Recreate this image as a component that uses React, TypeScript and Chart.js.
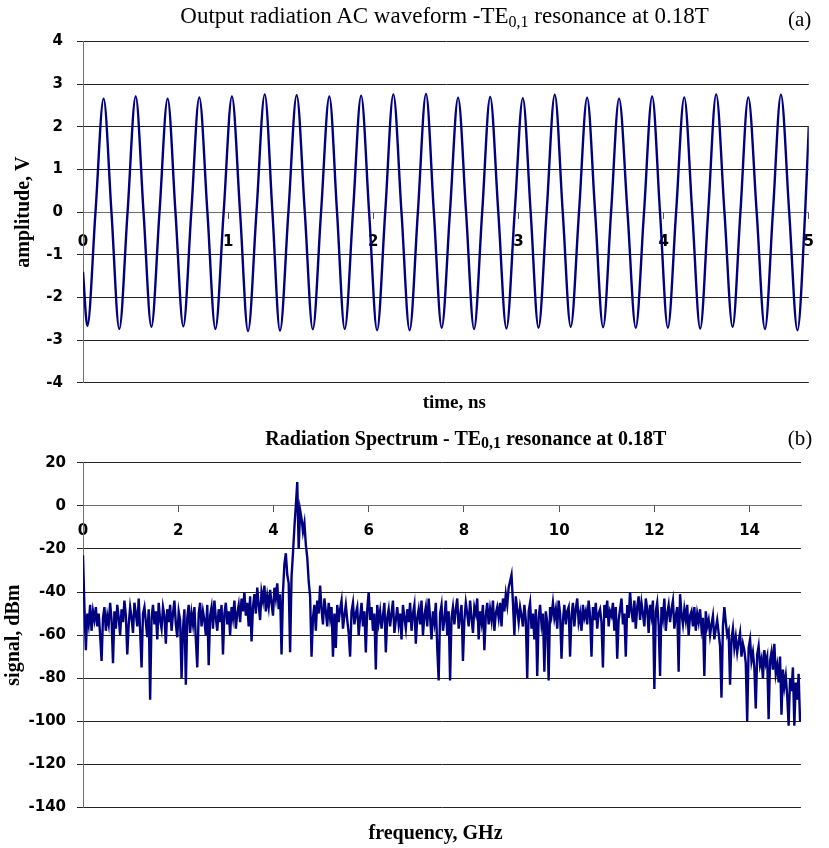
import React, { useEffect, useRef } from 'react';
import { Chart, registerables } from 'chart.js';

Chart.register(...registerables);

// ---------- (a) output radiation AC waveform: read extremes and zero crossings ----------
const WAVE_TIME_NS = [
  0, 0.030, 0.086, 0.142, 0.196, 0.250, 0.307, 0.363, 0.417, 0.471,
  0.527, 0.583, 0.637, 0.691, 0.746, 0.801, 0.857, 0.912, 0.969, 1.026,
  1.082, 1.137, 1.195, 1.252, 1.305, 1.357, 1.415, 1.472, 1.528, 1.583,
  1.640, 1.697, 1.750, 1.803, 1.860, 1.916, 1.971, 2.026, 2.082, 2.138,
  2.194, 2.250, 2.307, 2.363, 2.417, 2.471, 2.528, 2.584, 2.639, 2.694,
  2.750, 2.805, 2.861, 2.917, 2.974, 3.030, 3.084, 3.138, 3.194, 3.250,
  3.305, 3.360, 3.417, 3.473, 3.528, 3.583, 3.638, 3.693, 3.751, 3.808,
  3.865, 3.921, 3.975, 4.029, 4.086, 4.142, 4.197, 4.252, 4.307, 4.362,
  4.419, 4.475, 4.529, 4.583, 4.641, 4.698, 4.753, 4.808, 4.865, 4.922,
  4.975, 5.0,
];
const WAVE_AMPLITUDE_V = [
  -1.4, -2.67, 0, 2.66, 0, -2.74, 0, 2.71, 0, -2.69,
  0, 2.66, 0, -2.68, 0, 2.69, 0, -2.74, 0, 2.71,
  0, -2.79, 0, 2.76, 0, -2.78, 0, 2.74, 0, -2.75,
  0, 2.71, 0, -2.74, 0, 2.73, 0, -2.77, 0, 2.76,
  0, -2.77, 0, 2.77, 0, -2.71, 0, 2.68, 0, -2.74,
  0, 2.70, 0, -2.73, 0, 2.67, 0, -2.71, 0, 2.75,
  0, -2.69, 0, 2.68, 0, -2.70, 0, 2.66, 0, -2.71,
  0, 2.71, 0, -2.71, 0, 2.69, 0, -2.73, 0, 2.76,
  0, -2.69, 0, 2.69, 0, -2.74, 0, 2.75, 0, -2.77,
  0, 2.0,
];

// ---------- (b) radiation spectrum: FFT bins every 0.03 GHz from 0 GHz ----------
const SPEC_STEP_GHZ = 0.03;
const SPECTRUM_DBM = [
  -23, -47, -67, -50, -55, -46, -58, -49, -53, -47,
  -56, -50, -60, -72, -52, -47, -58, -51, -55, -45,
  -53, -73, -49, -57, -46, -52, -60, -48, -54, -44,
  -51, -69, -55, -47, -52, -59, -45, -50, -56, -43,
  -58, -75, -50, -47, -54, -61, -48, -90, -52, -46,
  -55, -49, -62, -45, -53, -57, -47, -51, -64, -48,
  -54, -46, -58, -50, -44, -55, -61, -49, -53, -80,
  -57, -48, -83, -52, -46, -59, -50, -55, -47, -62,
  -75, -50, -45, -56, -49, -53, -60, -46, -74, -51,
  -47, -57, -44, -52, -58, -48, -54, -46, -69, -50,
  -45, -55, -49, -60, -47, -52, -44, -57, -50, -46,
  -54, -43, -49, -40, -51, -45, -56, -42, -63, -47,
  -41, -50, -38, -46, -53, -40, -44, -37, -49, -42,
  -47, -39, -45, -51, -38, -43, -36, -48, -41, -69,
  -40, -27, -22, -32, -36, -68, -33, -22, -10, 0,
  11, -20, -2, -6, -12, -8, -18, -24, -35, -42,
  -70, -52, -46, -58, -44, -50, -37, -48, -55, -43,
  -49, -56, -45, -52, -47, -70, -50, -66, -46, -54,
  -48, -44, -57, -51, -46, -53, -59, -70, -49, -45,
  -55, -50, -47, -60, -52, -45, -56, -49, -68, -48,
  -40, -53, -47, -58, -50, -76, -46, -54, -49, -57,
  -51, -45, -68, -52, -48, -56, -50, -44, -59, -53,
  -47, -55, -50, -62, -46, -52, -57, -48, -54, -45,
  -58, -50, -46, -64, -52, -48, -55, -44, -60, -51,
  -47, -56, -43, -52, -62, -49, -54, -45, -66, -81,
  -50, -46, -58, -53, -44, -60, -49, -81, -52, -47,
  -55, -48, -43, -57, -51, -46, -72, -53, -45, -50,
  -56, -44, -52, -59, -47, -50, -43, -62, -49, -54,
  -46, -67, -51, -45, -55, -48, -53, -44, -58, -50,
  -47, -52, -45, -56, -43, -49, -41, -46, -38, -35,
  -32, -45, -60, -42, -48, -54, -47, -51, -56, -46,
  -53, -80, -49, -45, -57, -50, -62, -48, -79, -52,
  -46, -55, -50, -77, -49, -54, -81, -47, -51, -45,
  -52, -48, -57, -44, -50, -71, -53, -46, -55, -49,
  -47, -70, -51, -45, -56, -48, -43, -54, -50, -58,
  -46, -52, -49, -55, -44, -51, -70, -47, -53, -45,
  -57, -50, -48, -54, -75, -46, -52, -44, -56, -49,
  -51, -45, -58, -47, -71, -53, -48, -43, -55, -50,
  -70, -46, -52, -40, -49, -54, -44, -57, -47, -42,
  -53, -45, -50, -56, -43, -48, -59, -46, -51, -44,
  -85, -49, -45, -55, -79, -47, -52, -43, -58, -50,
  -46, -54, -48, -44, -57, -51, -47, -77, -41, -50,
  -55, -48, -53, -46, -60, -51, -49, -56, -47, -58,
  -50, -54, -48, -57, -52, -79, -49, -56, -53, -60,
  -55, -51, -62, -57, -53, -59, -65, -89, -56, -47,
  -54, -60, -58, -83, -62, -57, -66, -61, -68, -63,
  -59, -70, -64, -67, -73, -100, -66, -62, -72, -68,
  -75, -94, -69, -65, -74, -71, -80, -67, -73, -70,
  -99, -72, -68, -76, -64, -78, -74, -82, -70, -97,
  -76, -84, -79, -88, -102, -80, -86, -75, -102, -82,
  -90, -78, -100,
];

// ---------- axis ranges / tick steps ----------
const WAVE_X_RANGE = [0, 5];
const WAVE_Y_RANGE = [-4, 4];
const SPEC_X_RANGE = [0, 15.08];
const SPEC_Y_RANGE = [-140, 20];

const NAVY = '#000080';
const SERIF = "'Liberation Serif', 'Times New Roman', serif";
const TICK_FONT = { family: "'DejaVu Sans', sans-serif", size: 15, weight: 'bold' as const };
const GRID = '#222222';
const AXIS = '#6e6e6e';

function makeOptions(opts: {
  xRange: number[]; xStep: number; yRange: number[]; yStep: number;
  padding: any; yTitle: string; yTitlePad: number; xPad: number; yPad: number;
}) {
  return {
    responsive: false,
    animation: false as const,
    events: [],
    layout: { padding: opts.padding },
    plugins: { legend: { display: false }, tooltip: { enabled: false }, title: { display: false } },
    scales: {
      x: {
        type: 'linear' as const,
        min: opts.xRange[0],
        max: opts.xRange[1],
        position: { y: 0 },
        grid: { drawOnChartArea: false, drawTicks: true, tickLength: 6, color: '#555555', lineWidth: 1 },
        border: { color: AXIS, width: 1 },
        ticks: {
          stepSize: opts.xStep, includeBounds: false, autoSkip: false, maxRotation: 0,
          font: TICK_FONT, color: '#000', padding: opts.xPad,
        },
      },
      y: {
        type: 'linear' as const,
        min: opts.yRange[0],
        max: opts.yRange[1],
        grid: { color: GRID, lineWidth: 1, drawTicks: true, tickLength: 6 },
        border: { color: AXIS, width: 1 },
        ticks: { stepSize: opts.yStep, font: TICK_FONT, color: '#000', padding: opts.yPad },
        title: {
          display: true, text: opts.yTitle, color: '#000',
          font: { family: SERIF, size: 20, weight: 'bold' as const },
          padding: { top: opts.yTitlePad, bottom: 0 },
        },
        afterFit: (scale: any) => { scale.width = 83; },
      },
    },
  };
}

export default function App() {
  const refA = useRef<HTMLCanvasElement>(null);
  const refB = useRef<HTMLCanvasElement>(null);

  useEffect(() => {
    const chartA = new Chart(refA.current as HTMLCanvasElement, {
      type: 'line',
      data: {
        datasets: [{
          data: WAVE_TIME_NS.map((t, i) => ({ x: t, y: WAVE_AMPLITUDE_V[i] })),
          borderColor: NAVY, borderWidth: 2.4, pointRadius: 0,
          cubicInterpolationMode: 'monotone', fill: false,
        }],
      },
      options: makeOptions({
        xRange: WAVE_X_RANGE, xStep: 1, yRange: WAVE_Y_RANGE, yStep: 1,
        padding: { left: 0, right: 5, top: 41.5, bottom: 37.3 },
        yTitle: 'amplitude, V', yTitlePad: 11.5, xPad: 15, yPad: 14,
      }) as any,
    });
    const chartB = new Chart(refB.current as HTMLCanvasElement, {
      type: 'line',
      data: {
        datasets: [{
          data: SPECTRUM_DBM.map((v, i) => ({ x: +(i * SPEC_STEP_GHZ).toFixed(3), y: v })),
          borderColor: NAVY, borderWidth: 2.4, pointRadius: 0, tension: 0, fill: false,
          borderJoinStyle: 'miter',
        }],
      },
      options: makeOptions({
        xRange: SPEC_X_RANGE, xStep: 2, yRange: SPEC_Y_RANGE, yStep: 20,
        padding: { left: 0, right: 28, top: 42.7, bottom: 40.5 },
        yTitle: 'signal, dBm', yTitlePad: 2, xPad: 10.5, yPad: 11,
      }) as any,
    });
    return () => { chartA.destroy(); chartB.destroy(); };
  }, []);

  const txt: React.CSSProperties = {
    position: 'absolute', whiteSpace: 'nowrap', fontFamily: SERIF, lineHeight: 1, color: '#000',
  };
  return (
    <div style={{ position: 'absolute', left: 0, top: 0, width: 829, height: 848, background: '#fff', overflow: 'hidden' }}>
      <canvas ref={refA} width={829} height={420} style={{ position: 'absolute', left: 0, top: 0 }} />
      <canvas ref={refB} width={829} height={428} style={{ position: 'absolute', left: 0, top: 420 }} />
      <div style={{ ...txt, left: 444.5, top: 4, fontSize: 23, transform: 'translateX(-50%)' }}>
        Output radiation AC waveform -TE<span style={{ fontSize: 16, verticalAlign: -3.5 }}>0,1</span> resonance at 0.18T
      </div>
      <div style={{ ...txt, left: 788, top: 9, fontSize: 21 }}>(a)</div>
      <div style={{ ...txt, left: 454.3, top: 392.4, fontSize: 19, fontWeight: 'bold', transform: 'translateX(-50%)' }}>time, ns</div>
      <div style={{ ...txt, left: 465.8, top: 428.3, fontSize: 20, fontWeight: 'bold', transform: 'translateX(-50%)' }}>
        Radiation Spectrum - TE<span style={{ fontSize: 16, verticalAlign: -3 }}>0,1</span> resonance at 0.18T
      </div>
      <div style={{ ...txt, left: 787.7, top: 428, fontSize: 21 }}>(b)</div>
      <div style={{ ...txt, left: 435.5, top: 821.5, fontSize: 20, fontWeight: 'bold', transform: 'translateX(-50%)' }}>frequency, GHz</div>
    </div>
  );
}
